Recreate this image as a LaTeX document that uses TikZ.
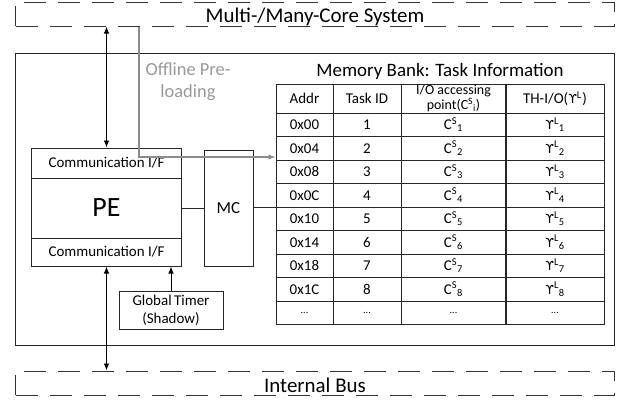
\documentclass[tikz,border=0pt]{standalone}
\usepackage{fontspec}
\setmainfont{Carlito}
\newfontfamily\grkfont{DejaVu Sans}
\usetikzlibrary{arrows.meta}

% C^S_i and Y^L_i entries of the task table
\newcommand\CS[1]{C\textsuperscript{S}\textsubscript{#1}}
\newcommand\UpsL[1]{{\grkfont\fontsize{12.5}{14}\selectfont ϒ}\textsuperscript{L}\textsubscript{#1}}

\begin{document}
\begin{tikzpicture}[x=1bp,y=-1bp,
  line/.style={draw=black!85, line width=1bp},
  blk/.style={line, inner sep=0pt, align=center, font=\fontsize{15}{17}\selectfont},
  bus/.style={draw=black!80, line width=1bp, dash pattern=on 22bp off 12bp,
    inner sep=0pt, minimum width=598bp, minimum height=24bp},
  buslabel/.style={inner sep=0pt, font=\fontsize{21}{24}\selectfont},
  cell/.style={line, inner sep=0pt, align=center, font=\fontsize{15}{17}\selectfont},
  tip/.style={line width=0.9bp, draw=black},
  arr/.style={tip, -{Latex[length=7bp,width=5.5bp]}},
  biarr/.style={tip, {Latex[length=7bp,width=5.5bp]}-{Latex[length=7bp,width=5.5bp]}},
  pre/.style={draw=black!45, line width=1.2bp, -{Latex[length=7bp,width=5.5bp]}}
]
\useasboundingbox (0,0) rectangle (628,403);

% system buses
\node[bus] (top) at (315,14) {};
\node[buslabel] (toplbl) at (315,16.5) {Multi-/Many-Core System};
\node[bus] (bot) at (315,383) {};
\node[buslabel] (botlbl) at (315,385) {Internal Bus};

% enclosing node boundary
\node[line, minimum width=598bp, minimum height=292bp] (sys) at (315,199) {};

% processing element with its two communication interfaces
\node[blk, minimum width=149bp, minimum height=30bp] (cif1) at (106.5,163) {Communication I/F};
\node[blk, minimum width=149bp, minimum height=60bp, font=\fontsize{28}{30}\selectfont] (pe) at (106.5,208) {PE};
\node[blk, minimum width=149bp, minimum height=28bp] (cif2) at (106.5,252) {Communication I/F};

% memory controller
\node[blk, minimum width=49bp, minimum height=116bp, font=\fontsize{17}{19}\selectfont] (mc) at (228.5,208) {MC};

% global timer
\node[blk, minimum width=104bp, minimum height=38bp, font=\fontsize{15}{18}\selectfont] (timer) at (171,310) {Global\,Timer\\(Shadow)};

% offline pre-loading label
\node[text=black!40, align=center, font=\fontsize{18.5}{22}\selectfont] (offl) at (188,82) {Offline Pre-\\loading};

% memory bank title
\node[font=\fontsize{19}{21}\selectfont] (mbt) at (440,71) {Memory Bank: Task Information};

% table header
\node[cell, minimum width=57bp,  minimum height=29bp] (h1) at (304.5,98.5) {Addr};
\node[cell, minimum width=68bp,  minimum height=29bp] (h2) at (367,98.5) {Task ID};
\node[cell, minimum width=105bp, minimum height=29bp, font=\fontsize{14}{13}\selectfont] (h3) at (453.5,98.5) {I/O accessing\\point(\CS{i})};
\node[cell, minimum width=99bp,  minimum height=29bp] (h4) at (555,98.5) {TH-I/O(\UpsL{})};

% table rows
\foreach \ad/\id [count=\k] in {0x00/1,0x04/2,0x08/3,0x0C/4,0x10/5,0x14/6,0x18/7,0x1C/8}{
  \pgfmathsetmacro\yy{113+23.5*(\k-0.5)}
  \node[cell, minimum width=57bp,  minimum height=23.5bp] (r\k a) at (304.5,\yy) {\ad};
  \node[cell, minimum width=68bp,  minimum height=23.5bp] (r\k b) at (367,\yy) {\id};
  \node[cell, minimum width=105bp, minimum height=23.5bp] (r\k c) at (453.5,\yy) {\CS{\id}};
  \node[cell, minimum width=99bp,  minimum height=23.5bp] (r\k d) at (555,\yy) {\UpsL{\id}};
}
\pgfmathsetmacro\yy{113+23.5*8.5}
\foreach \c/\x/\w in {a/304.5/57,b/367/68,c/453.5/105,d/555/99}{
  \node[cell, minimum width=\w bp, minimum height=23.5bp, font=\fontsize{10}{12}\selectfont] (r9\c) at (\x,\yy) {...};
}

% connectors
\draw[biarr] (cif1.north) -- (cif1.north |- top.south);
\draw[biarr] (cif2.south) -- (cif2.south |- bot.north);
\draw[arr] (timer.north) -- (timer.north |- cif2.south);
\draw[line] (pe.east) -- (mc.west |- pe.east);
\coordinate (tin) at (r4a.south west);
\draw[line] (mc.east |- tin) -- (tin);
\coordinate (pl) at (139,157);
\draw[pre] (pl |- top.south) -- (pl) -- (pl -| r2a.west);
\end{tikzpicture}
\end{document}
